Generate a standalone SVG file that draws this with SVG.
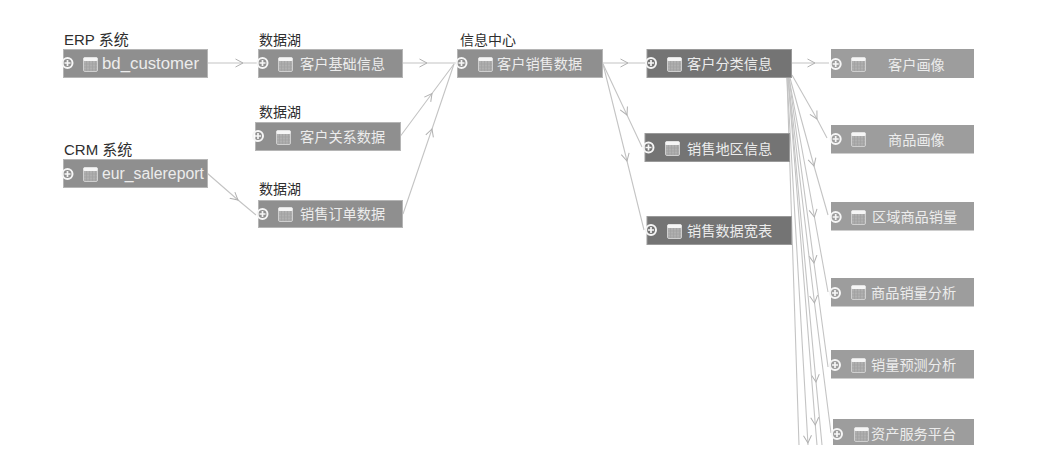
<svg xmlns="http://www.w3.org/2000/svg" width="1041" height="457" viewBox="0 0 1041 457">
<style>
text{font-family:"Liberation Sans","Noto Sans CJK SC",sans-serif}
.lab{font-size:14px;fill:#2e2e2e}
.sys{font-size:15px}
.t{font-size:14.2px;fill:#ececec}
.b{fill:#8f8f8f;stroke:#b5b5b5;stroke-width:1}
.d{fill:#747474;stroke:#9a9a9a;stroke-width:1}
.r{fill:#9d9d9d}
.e{fill:none;stroke:#c4c4c4;stroke-width:1.1;marker-mid:url(#a)}
.n{fill:none;stroke:#c4c4c4;stroke-width:1.1}
</style>
<defs>
<marker id="a" markerUnits="userSpaceOnUse" markerWidth="12" markerHeight="14" refX="8" refY="7" orient="auto"><path d="M.5 3L8 7L.5 11" fill="none" stroke="#b0b0b0" stroke-width="1"/></marker>
<symbol id="i" viewBox="0 0 15 15" width="15" height="15" overflow="visible"><rect x=".5" y=".5" width="14" height="14" rx="1.5" fill="#b0b0b0" stroke="#cfcfcf"/><rect x=".5" y=".5" width="14" height="3.500" rx="1" fill="#f6f6f6"/><path d="M1 7h13M1 10h13M1 13h13M3.500 4v10M6.500 4v10M9.500 4v10M12.500 4v10" stroke="#9e9e9e" stroke-width=".6"/></symbol>
<symbol id="c" viewBox="-6 -6 12 12" width="12" height="12" overflow="visible"><circle r="5" fill="none" stroke="#f6f6f6" stroke-width="2"/><path d="M-3 0H3M0 -3V3" stroke="#f6f6f6" stroke-width="1.700"/></symbol>
</defs>
<g id="connectors">
<polyline class="e" points="208,63 243,63 258,63"/>
<polyline class="e" points="207,173 238,200 256,215"/>
<polyline class="e" points="403,63 427,63 457,63"/>
<polyline class="e" points="400.500,136 432,93.500 454,64"/>
<polyline class="e" points="403,214 432,129 454,64"/>
<polyline class="e" points="603,63 628,63 645,63"/>
<polyline class="e" points="603,64 627,115 642,147"/>
<polyline class="e" points="603,64 627,161 644,230"/>
<polyline class="e" points="792,63 815,63 829,63"/>
<polyline class="e" points="792,75 817,119 827,138"/>
<polyline class="e" points="790,78 814,166 828,215"/>
<polyline class="e" points="789,78 814.400,217 828,292"/>
<polyline class="e" points="789,78 814,263 828,367"/>
<polyline class="e" points="788,78 814.500,303 831,433"/>
<polyline class="e" points="788,78 816,382 822,445"/>
<polyline class="e" points="788,78 815.300,425 817,445"/>
<polyline class="e" points="787,78 807.900,443 808,445"/>
<polyline class="n" points="787,78 799,445"/>
</g>
<g id="n1"><text class="lab sys" x="64" y="45">ERP 系统</text><rect class="b" x="63.500" y="49.500" width="144" height="28"/><use href="#c" x="61.500" y="57"/><use href="#i" x="83" y="57"/><text class="t" x="102" y="69" style="font-size:16.800px">bd_customer</text></g>
<g id="n2"><text class="lab sys" x="64" y="155">CRM 系统</text><rect class="b" x="63.500" y="159.500" width="144" height="28"/><use href="#c" x="61.500" y="168"/><use href="#i" x="83" y="167"/><text class="t" x="102" y="179" style="font-size:15.800px">eur_salereport</text></g>
<g id="n3"><text class="lab" x="259" y="45">数据湖</text><rect class="b" x="258.500" y="49.500" width="144" height="28"/><use href="#c" x="256.500" y="57"/><use href="#i" x="278" y="57"/><text class="t" x="300" y="69">客户基础信息</text></g>
<g id="n4"><text class="lab" x="259" y="117">数据湖</text><rect class="b" x="255.500" y="122.500" width="145" height="28"/><use href="#c" x="252" y="130"/><use href="#i" x="276" y="130"/><text class="t" x="300" y="142">客户关系数据</text></g>
<g id="n5"><text class="lab" x="259" y="194">数据湖</text><rect class="b" x="258.500" y="200.500" width="144" height="27"/><use href="#c" x="256.500" y="208"/><use href="#i" x="278" y="207"/><text class="t" x="300" y="219">销售订单数据</text></g>
<g id="n6"><text class="lab" x="460" y="45">信息中心</text><rect class="b" x="457.500" y="49.500" width="145" height="28"/><use href="#c" x="455.500" y="57"/><use href="#i" x="478" y="57"/><text class="t" x="497" y="69">客户销售数据</text></g>
<g id="n7"><rect class="d" x="647" y="49.500" width="144.500" height="28"/><use href="#c" x="645" y="57"/><use href="#i" x="667" y="57"/><text class="t" x="687" y="69">客户分类信息</text></g>
<g id="n8"><rect class="d" x="645" y="133.500" width="144.500" height="28"/><use href="#c" x="642.500" y="141.500"/><use href="#i" x="665" y="141"/><text class="t" x="687" y="154">销售地区信息</text></g>
<g id="n9"><rect class="d" x="647" y="216.500" width="144.500" height="28"/><use href="#c" x="645" y="224"/><use href="#i" x="667" y="224"/><text class="t" x="687" y="236">销售数据宽表</text></g>
<g id="n10"><rect class="r" x="831" y="49" width="143" height="29"/><use href="#c" x="829.700" y="58"/><use href="#i" x="851" y="57"/><text class="t" x="888" y="70">客户画像</text></g>
<g id="n11"><rect class="r" x="831" y="125" width="143" height="28.500"/><use href="#c" x="829.700" y="133"/><use href="#i" x="851" y="132"/><text class="t" x="888" y="145">商品画像</text></g>
<g id="n12"><rect class="r" x="831" y="202" width="143" height="28.500"/><use href="#c" x="829.700" y="211"/><use href="#i" x="851" y="210"/><text class="t" x="872" y="222">区域商品销量</text></g>
<g id="n13"><rect class="r" x="831" y="278" width="143" height="28.500"/><use href="#c" x="829" y="287"/><use href="#i" x="851" y="285"/><text class="t" x="871" y="298">商品销量分析</text></g>
<g id="n14"><rect class="r" x="831" y="350" width="143" height="28.500"/><use href="#c" x="829" y="359"/><use href="#i" x="851" y="358"/><text class="t" x="871" y="370">销量预测分析</text></g>
<g id="n15"><rect class="r" x="833" y="419" width="141" height="26"/><use href="#c" x="831" y="428"/><use href="#i" x="854" y="427"/><text class="t" x="871" y="439">资产服务平台</text></g>
</svg>
